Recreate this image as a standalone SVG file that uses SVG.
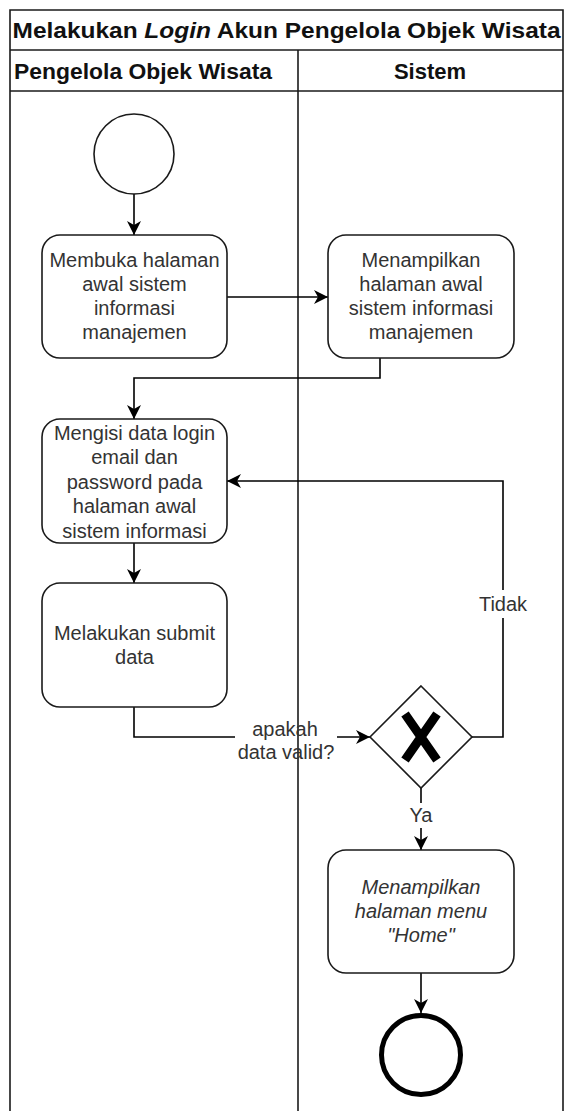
<svg xmlns="http://www.w3.org/2000/svg" width="565" height="1111" viewBox="0 0 565 1111">
  <style>
    .frame { fill: none; stroke: #1a1a1a; stroke-width: 1.6; }
    .node { fill: #ffffff; stroke: #1a1a1a; stroke-width: 1.6; }
    .edge { fill: none; stroke: #000000; stroke-width: 1.6; }
    .head { font-family: "Liberation Sans", Arial, sans-serif; font-size: 22px; font-weight: bold; fill: #111; text-anchor: middle; }
    .lbl { font-family: "Liberation Sans", Arial, sans-serif; font-size: 20px; fill: #333; text-anchor: middle; }
    .it { font-style: italic; }
  </style>
  <defs>
    <marker id="arrow" markerUnits="userSpaceOnUse" markerWidth="16" markerHeight="16" refX="14" refY="8" orient="auto">
      <path d="M0,1 L14,8 L0,15 L4,8 Z" fill="#000"/>
    </marker>
  </defs>

  <!-- pool and lanes -->
  <g id="pool">
    <rect x="0" y="0" width="565" height="1111" fill="#ffffff"/>
    <path class="frame" d="M10,1111 V10 H563 V1111"/>
    <line class="frame" x1="10" y1="50" x2="563" y2="50"/>
    <line class="frame" x1="10" y1="91" x2="563" y2="91"/>
    <line class="frame" x1="298" y1="50" x2="298" y2="1111"/>
    <text class="head" x="286.5" y="38" textLength="548" lengthAdjust="spacingAndGlyphs">Melakukan <tspan class="it">Login</tspan> Akun Pengelola Objek Wisata</text>
    <text class="head" x="143" y="79" textLength="258" lengthAdjust="spacingAndGlyphs">Pengelola Objek Wisata</text>
    <text class="head" x="430" y="79">Sistem</text>
  </g>

  <!-- connectors -->
  <g id="connectors">
    <line class="edge" x1="134" y1="194" x2="134" y2="235" marker-end="url(#arrow)"/>
    <line class="edge" x1="227" y1="297" x2="328" y2="297" marker-end="url(#arrow)"/>
    <path class="edge" d="M380,358 V378 H134 V419" marker-end="url(#arrow)"/>
    <line class="edge" x1="134" y1="543" x2="134" y2="583" marker-end="url(#arrow)"/>
    <path class="edge" d="M134,707 V737 H235"/>
    <line class="edge" x1="337" y1="737" x2="370" y2="737" marker-end="url(#arrow)"/>
    <text class="lbl" x="285" y="736">apakah</text>
    <text class="lbl" x="286" y="759">data valid?</text>
    <path class="edge" d="M472,737 H503 V618"/>
    <path class="edge" d="M503,590 V481 H227" marker-end="url(#arrow)"/>
    <text class="lbl" x="503" y="611">Tidak</text>
    <line class="edge" x1="421" y1="788" x2="421" y2="803"/>
    <line class="edge" x1="421" y1="828" x2="421" y2="850" marker-end="url(#arrow)"/>
    <text class="lbl" x="421" y="822">Ya</text>
    <line class="edge" x1="421" y1="973" x2="421" y2="1013" marker-end="url(#arrow)"/>
  </g>

  <g id="start">
    <circle class="node" cx="134" cy="154" r="40"/>
  </g>

  <g id="buka-halaman">
    <rect class="node" x="42" y="235" width="185" height="123" rx="18"/>
    <text class="lbl" x="134.5" y="267">Membuka halaman</text>
    <text class="lbl" x="134.5" y="291">awal sistem</text>
    <text class="lbl" x="134.5" y="315">informasi</text>
    <text class="lbl" x="134.5" y="339">manajemen</text>
  </g>

  <g id="tampil-halaman">
    <rect class="node" x="328" y="235" width="186" height="123" rx="18"/>
    <text class="lbl" x="421" y="267">Menampilkan</text>
    <text class="lbl" x="421" y="291">halaman awal</text>
    <text class="lbl" x="421" y="315">sistem informasi</text>
    <text class="lbl" x="421" y="339">manajemen</text>
  </g>

  <g id="isi-login">
    <rect class="node" x="42" y="419" width="185" height="124" rx="18"/>
    <text class="lbl" x="134.5" y="440">Mengisi data login</text>
    <text class="lbl" x="134.5" y="464">email dan</text>
    <text class="lbl" x="134.5" y="489">password pada</text>
    <text class="lbl" x="134.5" y="513">halaman awal</text>
    <text class="lbl" x="134.5" y="538">sistem informasi</text>
  </g>

  <g id="submit">
    <rect class="node" x="42" y="583" width="185" height="124" rx="18"/>
    <text class="lbl" x="134.5" y="640">Melakukan submit</text>
    <text class="lbl" x="134.5" y="664">data</text>
  </g>

  <g id="gateway">
    <polygon class="node" points="421,686 472,737 421,788 370,737"/>
    <path d="M405,714 L437,760 M437,714 L405,760" stroke="#000" stroke-width="9" fill="none"/>
  </g>

  <g id="tampil-home">
    <rect class="node" x="328" y="850" width="186" height="123" rx="18"/>
    <text class="lbl it" x="421" y="894">Menampilkan</text>
    <text class="lbl it" x="421" y="918">halaman menu</text>
    <text class="lbl it" x="421" y="942">"Home"</text>
  </g>

  <g id="end">
    <circle cx="421" cy="1055" r="39.5" fill="#ffffff" stroke="#000" stroke-width="5"/>
  </g>
</svg>
